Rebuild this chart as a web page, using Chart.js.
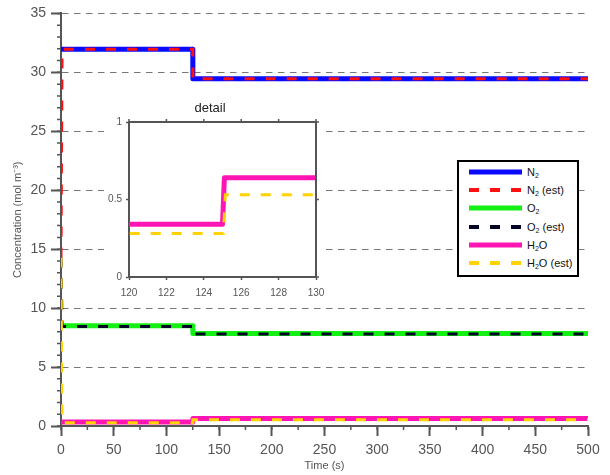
<!DOCTYPE html>
<html>
<head>
<meta charset="utf-8">
<script src="https://cdn.jsdelivr.net/npm/chart.js@4.4.1/dist/chart.umd.min.js"></script>
<style>
    body { margin: 0; background: #fff; }
    #wrap { position: relative; width: 610px; height: 475px; }
    #mainChart { position: absolute; left: 0; top: 0; }
    #insetChart { position: absolute; left: 104px; top: 95px; }
    #legend {
        position: absolute; left: 457px; top: 160px; width: 118px; height: 112px;
        border: 2px solid #000; background: #fff; padding-top: 1px; box-sizing: content-box;
        font-family: 'Liberation Sans', Arial, sans-serif; font-size: 11px; color: #111;
    }
    #legend .row { height: 18.2px; display: flex; align-items: center; }
    #legend svg { margin-left: 10px; margin-right: 5px; }
    #legend sub { font-size: 7px; vertical-align: -2px; line-height: 0; }
</style>
</head>
<body>
<div id="wrap">
    <canvas id="mainChart" width="610" height="475"></canvas>
    <canvas id="insetChart" width="226" height="207"></canvas>
    <div id="legend"></div>
</div>
<script>
/* ---------- data ---------- */
const seriesNames = ["N₂", "N₂ (est)", "O₂", "O₂ (est)", "H₂O", "H₂O (est)"];

const trueTime = [0, 125.0, 125.1, 500];
const estTime = [0, 1, 125.05, 125.15, 500];

const n2True = [31.95, 31.95, 29.45, 29.45];
const n2Est = [14.3, 31.95, 31.95, 29.45, 29.45];
const o2True = [8.5, 8.5, 7.85, 7.85];
const o2Est = [14.3, 8.45, 8.45, 7.8, 7.8];
const h2oTrue = [0.34, 0.34, 0.64, 0.64];
const h2oEst = [14.3, 0.28, 0.28, 0.53, 0.53];

const xTickValues = [0, 50, 100, 150, 200, 250, 300, 350, 400, 450, 500];
const xMinorStep = 25;
const yTickValues = [0, 5, 10, 15, 20, 25, 30, 35];
const yMinorStep = 1;

const insetXTickValues = [120, 122, 124, 126, 128, 130];
const insetYTickValues = [0, 0.5, 1];

const xTitle = "Time (s)";
const yTitle = "Concentration (mol m⁻³)";
const insetTitle = "detail";

/* ---------- helpers ---------- */
const FONT = "'Liberation Sans', Arial, sans-serif";
const AXIS = "#555";

function points(times, values) {
    return times.map((t, i) => ({ x: t, y: values[i] }));
}

function fixedTicks(values) {
    return scale => {
        scale.ticks = values.map(v => ({ value: v }));
    };
}

function makeLine(label, times, values, color, width, dash, order) {
    return {
        label,
        data: points(times, values),
        borderColor: color,
        backgroundColor: color,
        borderWidth: width,
        borderDash: dash,
        borderJoinStyle: dash.length ? "miter" : "round",
        pointRadius: 0,
        tension: 0,
        fill: false,
        order
    };
}

// short minor tick marks drawn from the scale positions
const minorTicks = {
    id: "minorTicks",
    afterDraw(chart, args, opts) {
        const ctx = chart.ctx;
        (opts.axes || []).forEach(a => {
            const scale = chart.scales[a.id];
            ctx.save();
            ctx.strokeStyle = AXIS;
            ctx.lineWidth = 1.5;
            ctx.beginPath();
            for (let v = scale.min; v <= scale.max + 1e-9; v += a.step) {
                const p = scale.getPixelForValue(v);
                if (scale.isHorizontal()) {
                    ctx.moveTo(p, scale.top);
                    ctx.lineTo(p, scale.top + a.len);
                } else {
                    ctx.moveTo(scale.right, p);
                    ctx.lineTo(scale.right - a.len, p);
                }
            }
            ctx.stroke();
            ctx.restore();
        });
    }
};

// white panel behind the inset, top / right sides of its box, bottom tick labels
const insetFrame = {
    id: "insetFrame",
    beforeDraw(chart, args, opts) {
        const ctx = chart.ctx;
        ctx.save();
        ctx.fillStyle = "#fff";
        ctx.fillRect(0, 0, opts.width, chart.height);
        ctx.restore();
    },
    afterDraw(chart) {
        const { ctx, chartArea: a, scales: { x, y } } = chart;
        ctx.save();
        ctx.strokeStyle = AXIS;
        ctx.lineWidth = 2;
        ctx.beginPath();
        ctx.moveTo(a.left - 1, a.top);
        ctx.lineTo(a.right, a.top);
        ctx.lineTo(a.right, a.bottom + 1);
        ctx.stroke();
        ctx.lineWidth = 1.5;
        ctx.beginPath();
        x.ticks.forEach(t => {
            const p = x.getPixelForValue(t.value);
            ctx.moveTo(p, a.top);
            ctx.lineTo(p, a.top - 3);
        });
        y.ticks.forEach(t => {
            const p = y.getPixelForValue(t.value);
            ctx.moveTo(a.right, p);
            ctx.lineTo(a.right + 3, p);
        });
        ctx.stroke();

        ctx.fillStyle = AXIS;
        ctx.font = "10px " + FONT;
        ctx.textAlign = "center";
        ctx.textBaseline = "middle";
        x.ticks.forEach(t => {
            ctx.fillText(String(t.value), x.getPixelForValue(t.value), a.bottom + 16);
        });
        ctx.restore();
    }
};

/* ---------- main chart ---------- */
const datasets = [
    makeLine(seriesNames[0], trueTime, n2True, "#0a0aff", 5, [], 6),
    makeLine(seriesNames[1], estTime, n2Est, "#ff1010", 3, [10, 11], 5),
    makeLine(seriesNames[2], trueTime, o2True, "#14f014", 5, [], 4),
    makeLine(seriesNames[3], estTime, o2Est, "#050528", 3, [10, 11], 3),
    makeLine(seriesNames[4], trueTime, h2oTrue, "#ff14b4", 5, [], 2),
    makeLine(seriesNames[5], estTime, h2oEst, "#ffd200", 3, [10, 11], 1)
];

const mainChart = new Chart(document.getElementById("mainChart"), {
    type: "line",
    data: { datasets },
    options: {
        responsive: false,
        animation: false,
        layout: { padding: { top: 10, right: 22, left: 0, bottom: 0 } },
        plugins: {
            legend: { display: false },
            tooltip: { enabled: false },
            minorTicks: {
                axes: [
                    { id: "x", step: xMinorStep, len: 4 },
                    { id: "y", step: yMinorStep, len: 4 }
                ]
            }
        },
        scales: {
            x: {
                type: "linear",
                min: xTickValues[0],
                max: xTickValues[xTickValues.length - 1],
                afterBuildTicks: fixedTicks(xTickValues),
                ticks: {
                    autoSkip: false,
                    maxRotation: 0,
                    padding: 6,
                    color: AXIS,
                    font: { family: FONT, size: 14 }
                },
                grid: {
                    drawOnChartArea: false,
                    tickLength: 10,
                    tickColor: AXIS,
                    tickWidth: 2,
                    tickBorderDash: []
                },
                border: { color: AXIS, width: 2 },
                title: {
                    display: true,
                    text: xTitle,
                    color: AXIS,
                    font: { family: FONT, size: 11 },
                    padding: { top: 0, bottom: 2.5 }
                },
                afterFit: s => { s.height = 49; }
            },
            y: {
                min: yTickValues[0],
                max: yTickValues[yTickValues.length - 1],
                afterBuildTicks: fixedTicks(yTickValues),
                ticks: {
                    padding: 5,
                    color: AXIS,
                    font: { family: FONT, size: 14 }
                },
                grid: {
                    color: "#777",
                    lineWidth: 1,
                    tickLength: 10,
                    tickColor: AXIS,
                    tickWidth: 2,
                    tickBorderDash: []
                },
                border: { color: AXIS, width: 2, dash: [6.5, 5.5] },
                title: {
                    display: true,
                    text: yTitle,
                    color: AXIS,
                    font: { family: FONT, size: 11 },
                    padding: { top: 11, bottom: 0 }
                },
                afterFit: s => { s.width = 61; }
            }
        }
    },
    plugins: [minorTicks]
});

/* ---------- inset ---------- */
const insetChart = new Chart(document.getElementById("insetChart"), {
    type: "line",
    data: {
        datasets: [
            makeLine(seriesNames[4], trueTime, h2oTrue, "#ff14b4", 5, [], 2),
            makeLine(seriesNames[5], estTime, h2oEst, "#ffd200", 3, [10, 11], 1)
        ]
    },
    options: {
        responsive: false,
        animation: false,
        layout: { padding: { top: 0, right: 14, bottom: 0, left: 0 } },
        plugins: {
            legend: { display: false },
            tooltip: { enabled: false },
            insetFrame: { width: 221 },
            title: {
                display: true,
                text: insetTitle,
                color: "#222",
                font: { family: FONT, size: 13, weight: "normal" },
                padding: { top: 6, bottom: 5.4 }
            }
        },
        scales: {
            x: {
                type: "linear",
                min: insetXTickValues[0],
                max: insetXTickValues[insetXTickValues.length - 1],
                afterBuildTicks: fixedTicks(insetXTickValues),
                ticks: { display: false },
                grid: { drawOnChartArea: false, tickLength: 3, tickColor: AXIS, tickWidth: 1.5 },
                border: { color: AXIS, width: 2 },
                afterFit: s => { s.height = 25; }
            },
            y: {
                min: insetYTickValues[0],
                max: insetYTickValues[insetYTickValues.length - 1],
                afterBuildTicks: fixedTicks(insetYTickValues),
                ticks: {
                    padding: 4,
                    color: AXIS,
                    font: { family: FONT, size: 10 },
                    callback: v => String(v)
                },
                grid: { drawOnChartArea: false, tickLength: 3, tickColor: AXIS, tickWidth: 1.5 },
                border: { color: AXIS, width: 2 },
                afterFit: s => { s.width = 25; }
            }
        }
    },
    plugins: [insetFrame]
});

/* ---------- legend (HTML, built from the datasets) ---------- */
const legendBox = document.getElementById("legend");
mainChart.data.datasets.forEach(ds => {
    const row = document.createElement("div");
    row.className = "row";
    const dash = ds.borderDash.length ? ds.borderDash.join(" ") : "none";
    const w = ds.borderDash.length ? 4 : 5;
    row.innerHTML =
        `<svg width="53" height="8"><line x1="0" y1="4" x2="53" y2="4" stroke="${ds.borderColor}" ` +
        `stroke-width="${w}" stroke-dasharray="${dash}"/></svg>` +
        `<span>${ds.label.replace(/₂/g, "<sub>2</sub>")}</span>`;
    legendBox.appendChild(row);
});
</script>
</body>
</html>
